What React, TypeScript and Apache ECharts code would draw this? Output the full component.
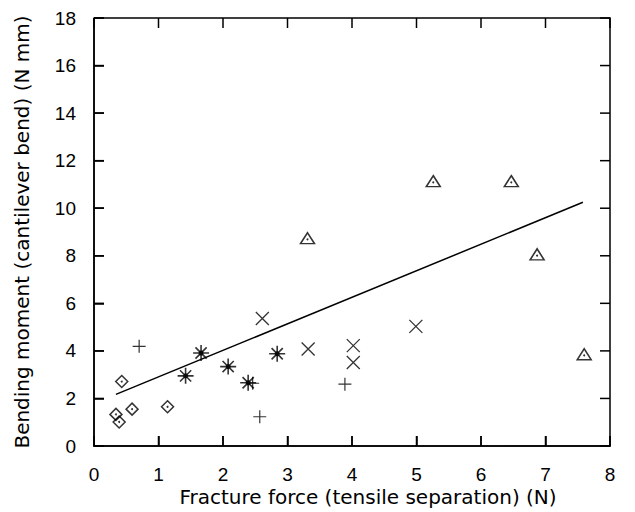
import React, { useEffect, useRef } from "react";
import * as echarts from "echarts";

// Data: [fracture force (N), bending moment (N mm)]
const diamondPoints: number[][] = [
  [0.43, 2.71],
  [0.34, 1.33],
  [0.39, 1.01],
  [0.59, 1.55],
  [1.14, 1.65],
];
const plusPoints: number[][] = [
  [0.7, 4.19],
  [2.57, 1.23],
  [2.46, 2.64],
  [3.89, 2.6],
];
const asteriskPoints: number[][] = [
  [1.42, 2.95],
  [1.66, 3.91],
  [2.08, 3.34],
  [2.39, 2.66],
  [2.84, 3.88],
];
const crossPoints: number[][] = [
  [2.61, 5.36],
  [3.32, 4.08],
  [4.02, 4.22],
  [4.02, 3.51],
  [4.99, 5.03],
];
const trianglePoints: number[][] = [
  [3.31, 8.74],
  [5.26, 11.14],
  [6.47, 11.14],
  [6.87, 8.06],
  [7.6, 3.86],
];
const fitLine: number[][] = [
  [0.34, 2.17],
  [7.58, 10.25],
];

const xTicks = [0, 1, 2, 3, 4, 5, 6, 7, 8];
const yTicks = [0, 2, 4, 6, 8, 10, 12, 14, 16, 18];
const xName = "Fracture force (tensile separation) (N)";
const yName = "Bending moment (cantilever bend) (N mm)";

const TICK_FONT = "Liberation Sans";
const NAME_FONT = "DejaVu Sans";

const DIAMOND = "path://M5,0 L10,5 L5,10 L0,5 Z";
const TRIANGLE = "path://M5,0 L10,9 L0,9 Z";
const PLUS = "path://M0,5 L10,5 M5,0 L5,10";
const CROSS = "path://M0,0 L10,10 M0,10 L10,0";
const ASTER = "path://M0,5 L10,5 M5,0 L5,10 M1.5,1.5 L8.5,8.5 M1.5,8.5 L8.5,1.5";

const TICK_LEN = 10;
const FRAME_W = 1.5;

export default function App() {
  const ref = useRef<HTMLDivElement>(null);
  useEffect(() => {
    if (!ref.current) return;
    const chart = echarts.init(ref.current, undefined, { renderer: "svg" });
    const strokeStyle = (w: number) => ({
      color: "transparent",
      borderColor: "black",
      borderWidth: w,
    });
    const dotSeries = (data: number[][], size: number) => ({
      type: "scatter",
      data,
      symbol: "circle",
      symbolSize: size,
      itemStyle: { color: "black" },
      silent: true,
    });
    chart.setOption({
      animation: false,
      grid: { left: 94, right: 25, top: 18, bottom: 66, outerBoundsMode: "none" },
      xAxis: {
        type: "value",
        min: xTicks[0],
        max: xTicks[xTicks.length - 1],
        interval: 1,
        axisLine: { show: true, lineStyle: { color: "black", width: FRAME_W } },
        axisTick: { show: true, inside: true, length: TICK_LEN, lineStyle: { width: FRAME_W } },
        splitLine: { show: false },
        axisLabel: { fontFamily: TICK_FONT, fontSize: 19, color: "black", margin: 19 },
      },
      yAxis: {
        type: "value",
        min: yTicks[0],
        max: yTicks[yTicks.length - 1],
        interval: 2,
        axisLine: { show: true, lineStyle: { color: "black", width: FRAME_W } },
        axisTick: { show: true, inside: true, length: TICK_LEN, lineStyle: { width: FRAME_W } },
        splitLine: { show: false },
        axisLabel: { fontFamily: TICK_FONT, fontSize: 19, color: "black", margin: 18 },
      },
      series: [
        {
          type: "line",
          data: fitLine,
          symbol: "none",
          lineStyle: { color: "black", width: 1.5 },
        },
        { type: "scatter", data: diamondPoints, symbol: DIAMOND, symbolSize: 12, itemStyle: strokeStyle(1.5) },
        dotSeries(diamondPoints, 2),
        { type: "scatter", data: trianglePoints, symbol: TRIANGLE, symbolSize: [14, 11], itemStyle: strokeStyle(1.5) },
        dotSeries(trianglePoints.map((p) => [p[0], p[1] - 0.05]), 2),
        { type: "scatter", data: plusPoints, symbol: PLUS, symbolSize: 13, itemStyle: strokeStyle(1.2) },
        { type: "scatter", data: crossPoints, symbol: CROSS, symbolSize: 13, itemStyle: strokeStyle(1.3) },
        { type: "scatter", data: asteriskPoints, symbol: ASTER, symbolSize: 16, itemStyle: strokeStyle(1.6) },
        dotSeries(asteriskPoints, 5),
      ],
    });

    // Frame and inward ticks on all four sides, placed through the chart's own scales.
    const px = (x: number, y: number) => chart.convertToPixel({ gridIndex: 0 }, [x, y]) as number[];
    const x0 = xTicks[0];
    const x1 = xTicks[xTicks.length - 1];
    const y0 = yTicks[0];
    const y1 = yTicks[yTicks.length - 1];
    const [left, bottom] = px(x0, y0);
    const [right, top] = px(x1, y1);
    const lineStyle = { stroke: "black", lineWidth: FRAME_W };
    const frameEls: any[] = [
      {
        type: "polyline",
        shape: {
          points: [
            [left, top],
            [right, top],
            [right, bottom],
            [left, bottom],
            [left, top],
          ],
        },
        style: { fill: null, stroke: "black", lineWidth: FRAME_W },
        z: 100,
      },
    ];
    xTicks.forEach((t) => {
      const [x] = px(t, y0);
      frameEls.push({ type: "line", shape: { x1: x, y1: bottom, x2: x, y2: bottom - TICK_LEN }, style: lineStyle, z: 100 });
      frameEls.push({ type: "line", shape: { x1: x, y1: top, x2: x, y2: top + TICK_LEN }, style: lineStyle, z: 100 });
    });
    yTicks.forEach((t) => {
      const [, y] = px(x0, t);
      frameEls.push({ type: "line", shape: { x1: left, y1: y, x2: left + TICK_LEN, y2: y }, style: lineStyle, z: 100 });
      frameEls.push({ type: "line", shape: { x1: right, y1: y, x2: right - TICK_LEN, y2: y }, style: lineStyle, z: 100 });
    });

    chart.setOption({
      graphic: [
        {
          type: "text",
          x: 368,
          y: 497,
          style: { text: xName, fontFamily: NAME_FONT, fontSize: 20, fill: "black", textAlign: "center", textVerticalAlign: "middle" },
        },
        {
          type: "text",
          x: 22,
          y: 232,
          rotation: Math.PI / 2,
          style: { text: yName, fontFamily: NAME_FONT, fontSize: 20, fill: "black", textAlign: "center", textVerticalAlign: "middle" },
        },
        ...frameEls,
      ],
    });
    return () => chart.dispose();
  }, []);
  return <div ref={ref} style={{ position: "absolute", left: 0, top: 0, width: 635, height: 512 }} />;
}
